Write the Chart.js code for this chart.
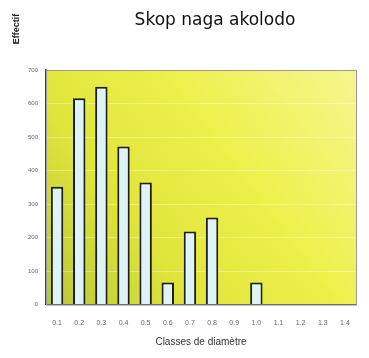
<!DOCTYPE html>
<html>
<head>
<meta charset="utf-8">
<script src="https://cdn.jsdelivr.net/npm/chart.js@4"></script>
<style>
  html, body { margin: 0; padding: 0; background: #fff; }
  #wrap { width: 369px; height: 358px; position: relative; }
</style>
</head>
<body>
<div id="wrap"><canvas id="chart"></canvas></div>
<script>
/* ═══════════ DATA ═══════════ */
const classes = ['0.1', '0.2', '0.3', '0.4', '0.5', '0.6', '0.7', '0.8', '0.9', '1.0', '1.1', '1.2', '1.3', '1.4'];
const counts  = [352, 616, 650, 472, 364, 66, 218, 260, 0, 66, 0, 0, 2, 2];
const yTicks  = [0, 100, 200, 300, 400, 500, 600, 700];

const chartTitle = 'Skop naga akolodo';
const yTitle = 'Effectif';
const xTitle = 'Classes de diamètre';

/* ═══════════ PLOT BACKGROUND + TEXT ═══════════ */
const decor = {
  id: 'decor',
  beforeDraw(chart) {
    const { ctx, chartArea: a } = chart;
    const g = ctx.createLinearGradient(a.left, a.bottom, a.right, a.top);
    g.addColorStop(0, '#b9c838');
    g.addColorStop(0.3, '#dfe43a');
    g.addColorStop(0.6, '#eef04a');
    g.addColorStop(1, '#f6f690');
    ctx.save();
    ctx.fillStyle = g;
    ctx.fillRect(a.left, a.top, a.right - a.left, a.bottom - a.top);
    ctx.restore();
  },
  afterDraw(chart) {
    const { ctx, chartArea: a } = chart;
    ctx.save();
    ctx.strokeStyle = '#9a9a9a';
    ctx.lineWidth = 1;
    ctx.strokeRect(a.left + 0.5, a.top + 0.5, a.right - a.left, a.bottom - a.top);
    // title
    ctx.fillStyle = '#111';
    ctx.font = '17px "DejaVu Sans", sans-serif';
    ctx.textAlign = 'center';
    ctx.textBaseline = 'middle';
    ctx.fillText(chartTitle, 215, 21);
    // y title, rotated, top-left
    ctx.translate(17, 29);
    ctx.rotate(-Math.PI / 2);
    ctx.font = 'bold 9px "Liberation Sans", Arial, sans-serif';
    ctx.fillStyle = '#222';
    ctx.fillText(yTitle, 0, 0);
    ctx.restore();
  }
};

/* ═══════════ CHART ═══════════ */
new Chart(document.getElementById('chart'), {
  type: 'bar',
  data: {
    labels: classes,
    datasets: [{
      data: counts,
      backgroundColor: '#ddf3f6',
      borderColor: '#1c1c1c',
      borderWidth: 2,
      borderSkipped: 'bottom',
      barPercentage: 0.56,
      categoryPercentage: 1
    }]
  },
  options: {
    responsive: true,
    maintainAspectRatio: false,
    animation: false,
    layout: { padding: { top: 70, right: 13, left: 6, bottom: 6 } },
    plugins: { legend: { display: false }, tooltip: { enabled: false } },
    scales: {
      x: {
        grid: { display: false },
        border: { color: '#555', width: 1 },
        ticks: { color: '#666', font: { size: 7, family: '"Liberation Sans", Arial' }, maxRotation: 0, padding: 6 },
        title: {
          display: true, text: xTitle, color: '#333',
          font: { size: 10, family: '"Liberation Sans", Arial' }, padding: { top: 3 }
        }
      },
      y: {
        min: 0, max: 700,
        afterFit(s) { s.width = 40; },
        afterBuildTicks(s) { s.ticks = yTicks.map(v => ({ value: v })); },
        grid: { color: 'rgba(255,255,230,0.35)', drawTicks: false },
        border: { color: '#444', width: 1.5 },
        ticks: { color: '#666', font: { size: 6, family: '"Liberation Sans", Arial' }, padding: 8 }
      }
    }
  },
  plugins: [decor]
});
</script>
</body>
</html>
